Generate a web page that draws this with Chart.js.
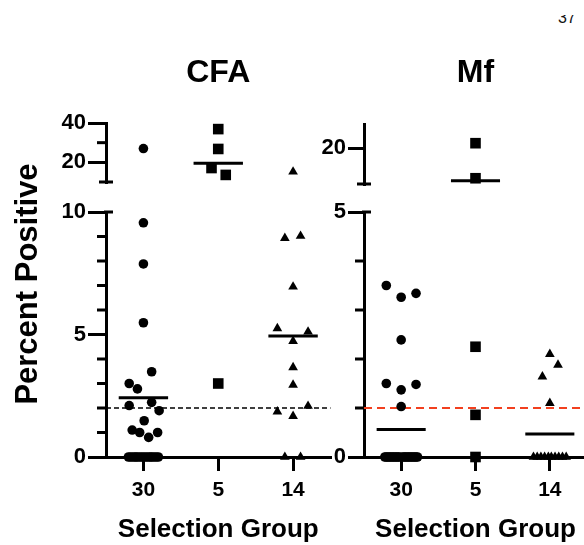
<!DOCTYPE html>
<html><head><meta charset="utf-8">
<script src="https://cdn.jsdelivr.net/npm/chart.js@4.4.1/dist/chart.umd.min.js"></script>
<style>
html,body{margin:0;padding:0;background:#fff;}
body{width:584px;height:545px;overflow:hidden;position:relative;font-family:'Liberation Sans',Arial,sans-serif;}
#pg{position:absolute;left:558px;top:15px;height:9px;overflow:hidden;}
#pg span{display:block;margin-top:-5px;font-size:16px;line-height:16px;color:#111;}
.panel{position:absolute;top:0;height:545px;}
</style></head><body>
<div id="pg"><span>37</span></div>
<div class="panel" style="left:0;width:340px"><canvas id="cfa"></canvas></div>
<div class="panel" style="left:300px;width:300px"><canvas id="mf"></canvas></div>
<script>
const FONT = "'Liberation Sans', Arial, sans-serif";

// ---- text ----
const categories = ['30', '5', '14'];
const panelTitles = ['CFA', 'Mf'];
const yAxisTitle = 'Percent Positive';
const xAxisTitle = 'Selection Group';

// ---- CFA panel values (percent positive) ----
const cfaGroup30 = [27, 9.56, 7.88, 5.48, 3.48, 3.0, 2.78, 2.23, 2.1, 1.89, 1.48, 1.1, 1.0, 1.0, 0.8,
                    0, 0, 0, 0, 0, 0, 0, 0, 0, 0, 0, 0, 0, 0, 0];
const cfaGroup30Jitter = [0, 0, 0, 0, 0.11, -0.19, -0.08, 0.11, -0.19, 0.21, 0.01, -0.15, -0.05, 0.19, 0.07,
                    -0.2, -0.17, -0.14, -0.11, -0.09, -0.06, -0.03, 0, 0.03, 0.06, 0.09, 0.11, 0.14, 0.17, 0.2];
const cfaGroup5 = [36.9, 26.8, 17.1, 13.6, 3.0];
const cfaGroup5Jitter = [0, 0, -0.09, 0.1, 0];
const cfaGroup14 = [15.2, 9.02, 8.93, 6.95, 5.25, 5.11, 4.73, 3.66, 2.94, 2.08, 1.85, 1.67, 0, 0];
const cfaGroup14Jitter = [0, 0.1, -0.11, 0, -0.21, 0.2, 0, 0, 0, 0.2, -0.21, 0, -0.11, 0.1];
const cfaMeans = [2.42, 19.5, 4.94];
const cfaCutoff = 2;

// ---- Mf panel values ----
const mfGroup30 = [3.5, 3.34, 3.26, 2.39, 1.5, 1.48, 1.37, 1.03,
                   0, 0, 0, 0, 0, 0, 0, 0, 0, 0, 0, 0, 0, 0, 0, 0, 0, 0, 0, 0, 0, 0];
const mfGroup30Jitter = [-0.2, 0.2, 0, 0, -0.2, 0.2, 0, 0,
                   -0.22, -0.2, -0.18, -0.16, -0.14, -0.12, -0.1, -0.08, -0.06, -0.04, -0.02,
                   0.02, 0.04, 0.06, 0.08, 0.1, 0.12, 0.14, 0.16, 0.18, 0.2, 0.22];
const mfGroup5 = [22, 7.4, 2.25, 0.86, 0];
const mfGroup5Jitter = [0, 0, 0, 0, 0];
const mfGroup14 = [2.1, 1.88, 1.64, 1.1, 0, 0, 0, 0, 0, 0, 0, 0, 0, 0];
const mfGroup14Jitter = [0, 0.11, -0.1, 0, -0.22, -0.17, -0.12, -0.07, -0.02, 0.02, 0.07, 0.12, 0.17, 0.22];
const mfMeans = [0.56, 6.4, 0.47];
const mfCutoff = 1;

// ---- axis segments & ticks ----
const cfaUpperRange = [10, 40];
const cfaUpperTicks = [20, 40];
const cfaUpperMinor = [30];
const cfaLowerRange = [0, 10];
const cfaLowerTicks = [0, 5, 10];
const cfaLowerMinor = [1, 2, 3, 4, 6, 7, 8, 9];
const mfUpperRange = [5, 30];
const mfUpperTicks = [20];
const mfUpperMinor = [];
const mfLowerRange = [0, 5];
const mfLowerTicks = [0, 5];
const mfLowerMinor = [1, 2, 3, 4];

const decor = {
  id: 'decor',
  afterDraw(chart, args, o) {
    const {ctx, chartArea} = chart;
    const up = chart.scales.yUp, low = chart.scales.yLow;
    const ax = low.right;
    ctx.save();
    ctx.strokeStyle = '#000';
    ctx.lineWidth = 3;
    const seg = (x1, y1, x2, y2) => { ctx.beginPath(); ctx.moveTo(x1, y1); ctx.lineTo(x2, y2); ctx.stroke(); };
    o.upperMinor.forEach(v => { const y = up.getPixelForValue(v); seg(ax - o.minorLen, y, ax, y); });
    o.lowerMinor.forEach(v => { const y = low.getPixelForValue(v); seg(ax - o.minorLen, y, ax, y); });
    seg(ax - o.cap, up.bottom, ax + o.cap, up.bottom);
    seg(ax - 2, low.top, ax + o.cap, low.top);
    ctx.fillStyle = '#000';
    ctx.textAlign = 'center';
    ctx.textBaseline = 'middle';
    ctx.font = 'bold ' + o.titleSize + 'px ' + FONT;
    ctx.fillText(o.title, (chartArea.left + chartArea.right) / 2, o.titleY);
    if (o.yTitle) {
      ctx.translate(o.yTitleX, o.yTitleY);
      ctx.rotate(-Math.PI / 2);
      ctx.font = 'bold ' + o.yTitleSize + 'px ' + FONT;
      ctx.fillText(o.yTitle, 0, 0);
    }
    ctx.restore();
  }
};

function yAxis(range, major, stackW, order, width, tickLen) {
  return {
    type: 'linear', position: 'left', stack: 'seg', stackWeight: stackW, weight: order,
    min: range[0], max: range[1],
    afterBuildTicks: a => { a.ticks = major.map(v => ({value: v})); },
    afterFit: a => { a.width = width; },
    ticks: {autoSkip: false, padding: 2, color: '#000', font: {family: FONT, size: 22, weight: 'bold'},
            callback: v => String(v)},
    grid: {display: true, drawOnChartArea: false, drawTicks: true, tickLength: tickLen, tickWidth: 3,
           tickColor: '#000', color: '#000', lineWidth: 3},
    border: {display: true, width: 3, color: '#000'}
  };
}

function buildPanel(id, p) {
  const styles = ['circle', 'rect', 'triangle'];
  const radii = [4.8, 7.5, 5.6];
  const datasets = [];
  p.groups.forEach((vals, gi) => {
    const low = [], up = [];
    vals.forEach((v, i) => {
      const pt = {x: gi + p.jitter[gi][i], y: v};
      (v > p.lowerRange[1] ? up : low).push(pt);
    });
    [[low, 'yLow'], [up, 'yUp']].forEach(([d, axisId]) => {
      if (!d.length) return;
      datasets.push({data: d, yAxisID: axisId, showLine: false, pointStyle: styles[gi],
        pointRadius: radii[gi], pointHoverRadius: radii[gi], backgroundColor: '#000',
        borderColor: '#000', pointBorderWidth: 0, clip: false});
    });
    const m = p.means[gi];
    datasets.push({data: [{x: gi - 0.33, y: m}, {x: gi + 0.33, y: m}],
      yAxisID: m > p.lowerRange[1] ? 'yUp' : 'yLow', showLine: true, borderColor: '#000',
      borderWidth: 3, pointRadius: 0, clip: false});
  });
  datasets.push({data: [{x: -0.5, y: p.cutoff}, {x: 2.5, y: p.cutoff}], yAxisID: 'yLow',
    showLine: true, borderColor: p.cutoffColor, borderWidth: p.cutoffWidth,
    borderDash: p.cutoffDash, pointRadius: 0, clip: false});

  return new Chart(document.getElementById(id), {
    type: 'scatter',
    data: {datasets},
    plugins: [decor],
    options: {
      responsive: true, maintainAspectRatio: false, animation: false, events: [],
      layout: {padding: {left: 0, right: p.padRight, top: p.padTop, bottom: 0}},
      plugins: {
        legend: {display: false}, tooltip: {enabled: false},
        decor: {title: p.title, titleSize: 32, titleY: 73, minorLen: 9, cap: 7,
          upperMinor: p.upperMinor, lowerMinor: p.lowerMinor,
          yTitle: p.yTitle, yTitleX: 28, yTitleY: 284, yTitleSize: 31}
      },
      scales: {
        x: {
          type: 'linear', position: 'bottom', min: -0.5, max: 2.5,
          afterBuildTicks: a => { a.ticks = categories.map((c, i) => ({value: i})); },
          afterFit: a => { a.height = 88; },
          ticks: {autoSkip: false, padding: 7, color: '#000', font: {family: FONT, size: 21, weight: 'bold'},
                  callback: v => categories[Math.round(v)]},
          grid: {display: true, drawOnChartArea: false, drawTicks: true, tickLength: 14, tickWidth: 3,
                 tickColor: '#000', color: '#000', lineWidth: 3},
          border: {display: true, width: 3, color: '#000'},
          title: {display: true, text: xAxisTitle, color: '#000', padding: {top: 0, bottom: 0},
                  font: {family: FONT, size: 26, weight: 'bold'}}
        },
        yLow: yAxis(p.lowerRange, p.lowerTicks, p.weights[2], 1, p.axisWidth, p.tickLen),
        ySpace: {type: 'linear', position: 'left', stack: 'seg', stackWeight: p.weights[1], weight: 2,
          min: 0, max: 1, afterFit: a => { a.width = p.axisWidth; },
          ticks: {display: false}, grid: {display: false}, border: {display: false}},
        yUp: yAxis(p.upperRange, p.upperTicks, p.weights[0], 3, p.axisWidth, p.tickLen)
      }
    }
  });
}

buildPanel('cfa', {
  title: panelTitles[0], yTitle: yAxisTitle,
  groups: [cfaGroup30, cfaGroup5, cfaGroup14],
  jitter: [cfaGroup30Jitter, cfaGroup5Jitter, cfaGroup14Jitter],
  means: cfaMeans, cutoff: cfaCutoff, cutoffColor: '#000', cutoffWidth: 1.5, cutoffDash: [5, 3],
  upperRange: cfaUpperRange, upperTicks: cfaUpperTicks, upperMinor: cfaUpperMinor,
  lowerRange: cfaLowerRange, lowerTicks: cfaLowerTicks, lowerMinor: cfaLowerMinor,
  weights: [59, 30, 245], padTop: 123, padRight: 9.5, axisWidth: 106, tickLen: 18
});

buildPanel('mf', {
  title: panelTitles[1], yTitle: null,
  groups: [mfGroup30, mfGroup5, mfGroup14],
  jitter: [mfGroup30Jitter, mfGroup5Jitter, mfGroup14Jitter],
  means: mfMeans, cutoff: mfCutoff, cutoffColor: '#f2401f', cutoffWidth: 2, cutoffDash: [8, 5],
  upperRange: mfUpperRange, upperTicks: mfUpperTicks, upperMinor: mfUpperMinor,
  lowerRange: mfLowerRange, lowerTicks: mfLowerTicks, lowerMinor: mfLowerMinor,
  weights: [60, 28, 245], padTop: 124, padRight: 13, axisWidth: 64, tickLen: 16
});
</script>
</body></html>
